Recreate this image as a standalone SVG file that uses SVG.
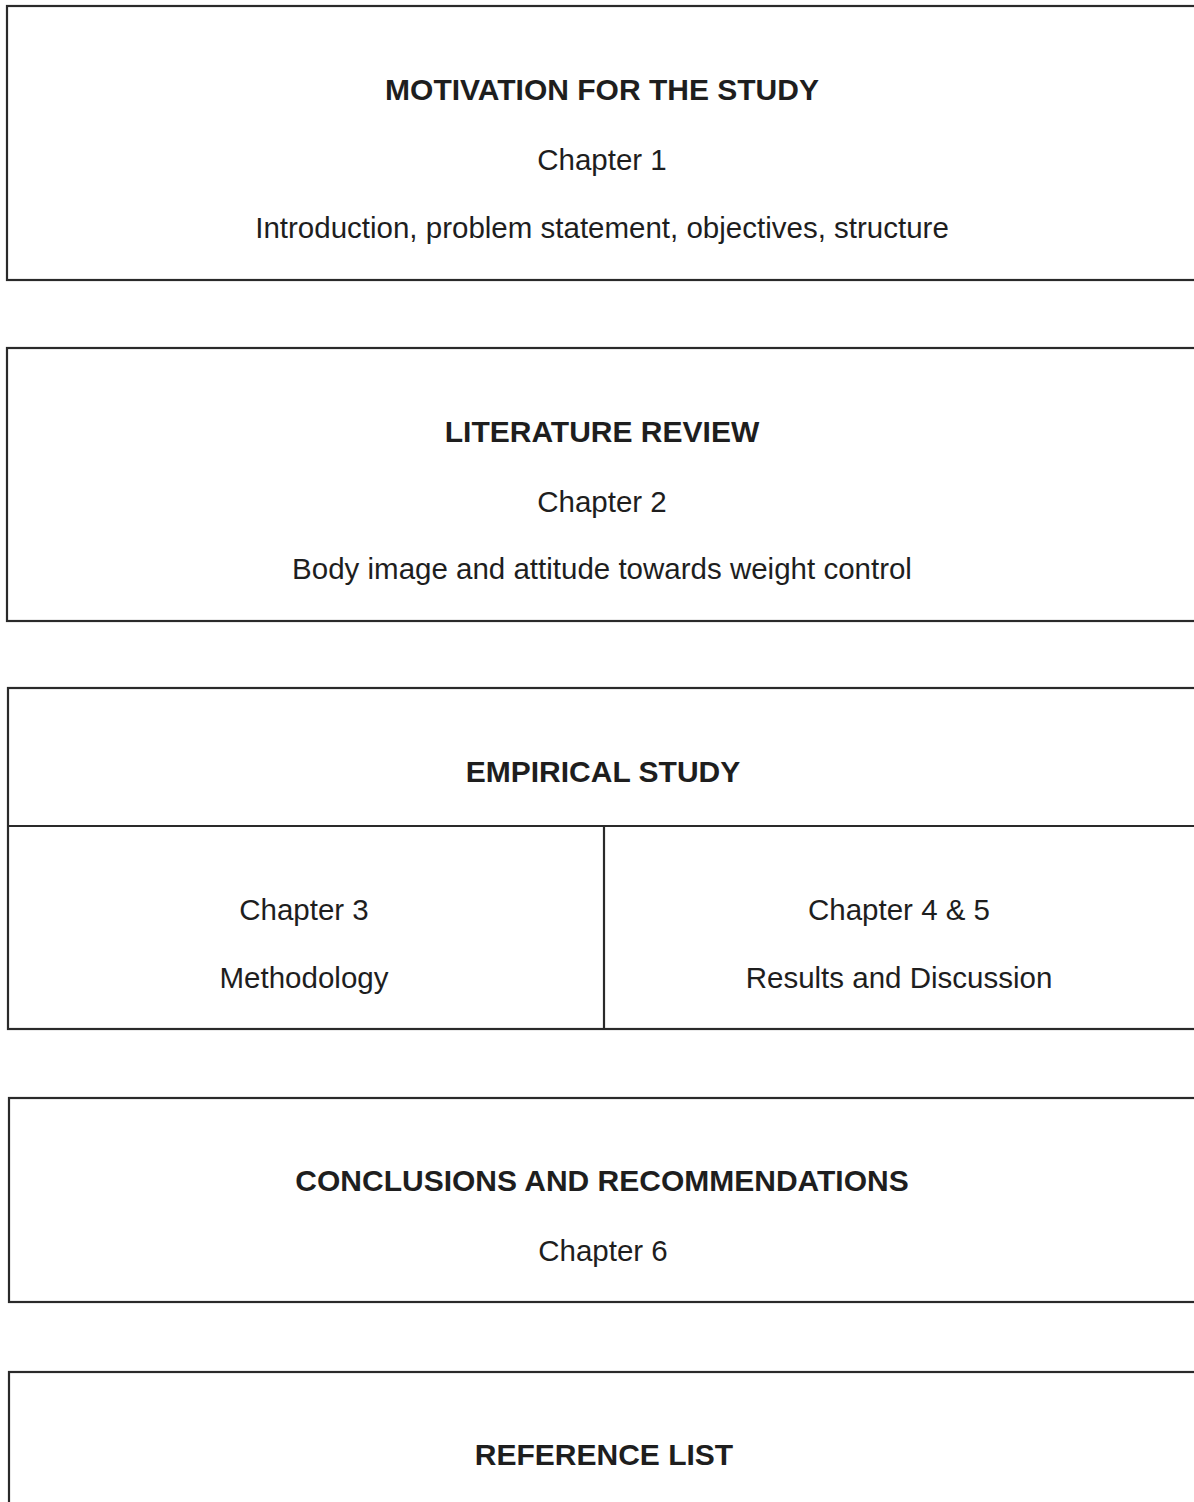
<svg xmlns="http://www.w3.org/2000/svg" width="1194" height="1502" viewBox="0 0 1194 1502">
<style>
.box{fill:none;stroke:#2a2a2a;stroke-width:2.2}
.t{font-family:"Liberation Sans",Arial,sans-serif;font-size:29.5px;fill:#1e1e1e;text-anchor:middle}
.b{font-weight:bold;font-size:30px}
</style>
<rect width="1194" height="1502" fill="#fff"/>
<g id="motivation">
<rect class="box" x="7" y="6" width="1200" height="274"/>
<text class="t b" x="602" y="100">MOTIVATION FOR THE STUDY</text>
<text class="t" x="602" y="170">Chapter 1</text>
<text class="t" x="602" y="238">Introduction, problem statement, objectives, structure</text>
</g>
<g id="literature">
<rect class="box" x="7" y="348" width="1200" height="273"/>
<text class="t b" x="602" y="442">LITERATURE REVIEW</text>
<text class="t" x="602" y="512">Chapter 2</text>
<text class="t" x="602" y="579">Body image and attitude towards weight control</text>
</g>
<g id="empirical">
<rect class="box" x="8" y="688" width="1200" height="341"/>
<line class="box" x1="8" y1="826" x2="1194" y2="826"/>
<line class="box" x1="604" y1="826" x2="604" y2="1029"/>
<text class="t b" x="603" y="782">EMPIRICAL STUDY</text>
<text class="t" x="304" y="920">Chapter 3</text>
<text class="t" x="304" y="988">Methodology</text>
<text class="t" x="899" y="920">Chapter 4 &amp; 5</text>
<text class="t" x="899" y="988">Results and Discussion</text>
</g>
<g id="conclusions">
<rect class="box" x="9" y="1098" width="1200" height="204"/>
<text class="t b" x="602" y="1191">CONCLUSIONS AND RECOMMENDATIONS</text>
<text class="t" x="603" y="1261">Chapter 6</text>
</g>
<g id="references">
<rect class="box" x="9" y="1372" width="1200" height="200"/>
<text class="t b" x="604" y="1465">REFERENCE LIST</text>
</g>
<g id="connectors"></g>
</svg>
